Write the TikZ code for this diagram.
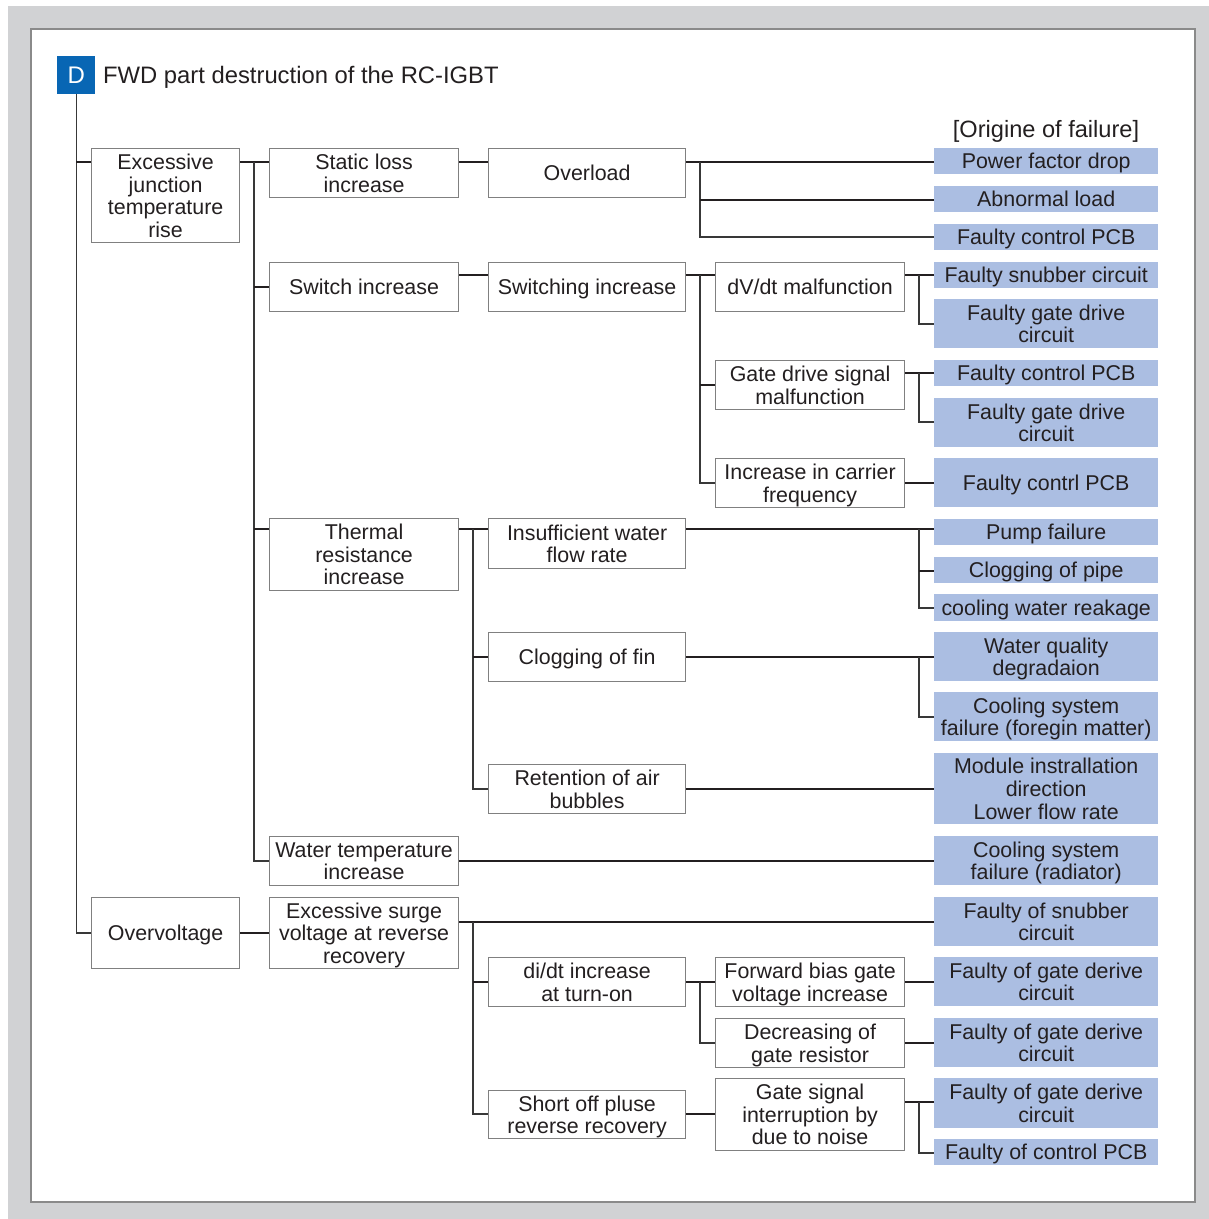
\documentclass[tikz,border=0pt]{standalone}
\usepackage{fontspec}
\setmainfont{Liberation Sans}
\definecolor{ink}{HTML}{231F20}
\definecolor{causefill}{RGB}{171,190,226}
\definecolor{markblue}{HTML}{0866B4}
\definecolor{pagegray}{HTML}{D1D2D4}
\definecolor{framegray}{HTML}{8A8A8A}
\newcommand\boxfont{\fontsize{21.4}{22.6}\selectfont}
\tikzset{
  wbox/.style={draw=black!50, line width=1.2pt, fill=white, inner sep=0pt,
    align=center, anchor=north west, text=ink, font=\boxfont, text depth=0pt},
  lv1/.style={wbox, minimum width=148pt},
  lv2/.style={wbox, minimum width=189pt},
  lv3/.style={wbox, minimum width=197pt},
  lv4/.style={wbox, minimum width=189pt},
  cause/.style={fill=causefill, draw=none, inner sep=0pt, align=center,
    anchor=north west, text=ink, font=\boxfont, text depth=0pt, minimum width=224pt},
  conn/.style={draw=ink, line width=2pt},
  trunk/.style={draw=black!78, line width=1.4pt},
}
\begin{document}
\begin{tikzpicture}[x=1pt, y=-1pt]
\useasboundingbox (0,0) rectangle (1209,1219);
% page and frame
\fill[pagegray] (8,6) rectangle (1209,1219);
\filldraw[fill=white, draw=framegray, line width=1.5pt] (31,29) rectangle (1195,1202);

% heading
\node[fill=markblue, text=white, minimum width=38pt, minimum height=38pt, inner sep=0pt,
  anchor=north west, font=\fontsize{24}{28}\selectfont] (dbox) at (57,56) {D};
\node[anchor=base west, inner sep=0pt, text=ink, font=\fontsize{23.8}{28}\selectfont]
  (title) at (103,83) {FWD part destruction of the RC-IGBT};
\node[anchor=base, inner sep=0pt, text=ink, font=\fontsize{23.6}{26}\selectfont]
  (origin) at (1046,137) {[Origine of failure]};

% level 1
\node[lv1, minimum height=94pt] (exc) at (91,148) {Excessive\\junction\\temperature\\rise};
\node[lv1, minimum height=71pt] (ovv) at (91,897) {Overvoltage};

% level 2
\node[lv2, minimum height=49pt] (static) at (269,148) {Static loss\\increase};
\node[lv2, minimum height=49pt] (swinc) at (269,262) {Switch increase};
\node[lv2, minimum height=72pt] (thermal) at (269,518) {Thermal\\resistance\\increase};
\node[lv2, minimum height=49pt] (wtemp) at (269,836) {Water temperature\\increase};
\node[lv2, minimum height=71pt] (surge) at (269,897) {Excessive surge\\voltage at reverse\\recovery};

% level 3
\node[lv3, minimum height=49pt] (overload) at (488,148) {Overload};
\node[lv3, minimum height=49pt] (switching) at (488,262) {Switching increase};
\node[lv3, minimum height=50pt] (insuff) at (488,518) {Insufficient water\\flow rate};
\node[lv3, minimum height=49pt] (clogfin) at (488,632) {Clogging of fin};
\node[lv3, minimum height=49pt] (retention) at (488,764) {Retention of air\\bubbles};
\node[lv3, minimum height=49pt] (didt) at (488,957) {di/dt increase\\at turn-on};
\node[lv3, minimum height=48pt] (shortoff) at (488,1090) {Short off pluse\\reverse recovery};

% level 4
\node[lv4, minimum height=49pt] (dvdt) at (715,262) {dV/dt malfunction};
\node[lv4, minimum height=49pt] (gdsig) at (715,360) {Gate drive signal\\malfunction};
\node[lv4, minimum height=49pt] (carrier) at (715,458) {Increase in carrier\\frequency};
\node[lv4, minimum height=49pt] (fwdbias) at (715,957) {Forward bias gate\\voltage increase};
\node[lv4, minimum height=49pt] (decr) at (715,1018) {Decreasing of\\gate resistor};
\node[lv4, minimum height=72pt] (gsig) at (715,1078) {Gate signal\\interruption by\\due to noise};

% origins of failure
\node[cause, minimum height=26pt] (c1) at (934,148) {Power factor drop};
\node[cause, minimum height=26pt] (c2) at (934,186) {Abnormal load};
\node[cause, minimum height=26pt] (c3) at (934,224) {Faulty control PCB};
\node[cause, minimum height=26pt] (c4) at (934,262) {Faulty snubber circuit};
\node[cause, minimum height=49pt] (c5) at (934,299) {Faulty gate drive\\circuit};
\node[cause, minimum height=26pt] (c6) at (934,360) {Faulty control PCB};
\node[cause, minimum height=49pt] (c7) at (934,398) {Faulty gate drive\\circuit};
\node[cause, minimum height=49pt] (c8) at (934,458) {Faulty contrl PCB};
\node[cause, minimum height=26pt] (c9) at (934,519) {Pump failure};
\node[cause, minimum height=26pt] (c10) at (934,557) {Clogging of pipe};
\node[cause, minimum height=27pt] (c11) at (934,594) {cooling water reakage};
\node[cause, minimum height=49pt] (c12) at (934,632) {Water quality\\degradaion};
\node[cause, minimum height=49pt] (c13) at (934,692) {Cooling system\\failure (foregin matter)};
\node[cause, minimum height=71pt] (c14) at (934,753) {Module instrallation\\direction\\Lower flow rate};
\node[cause, minimum height=49pt] (c15) at (934,836) {Cooling system\\failure (radiator)};
\node[cause, minimum height=49pt] (c16) at (934,897) {Faulty of snubber\\circuit};
\node[cause, minimum height=49pt] (c17) at (934,957) {Faulty of gate derive\\circuit};
\node[cause, minimum height=49pt] (c18) at (934,1018) {Faulty of gate derive\\circuit};
\node[cause, minimum height=50pt] (c19) at (934,1078) {Faulty of gate derive\\circuit};
\node[cause, minimum height=26pt] (c20) at (934,1139) {Faulty of control PCB};

% junction points of the trunk lines
\coordinate (jroot) at (dbox.south);
\coordinate (jexc) at (254,162);
\coordinate (jthermal) at (473,529);
\coordinate (jsurge) at (473,922);
\coordinate (jover) at (700,162);
\coordinate (jswitch) at (700,275);
\coordinate (jdidt) at (700,982);
\coordinate (jinsuff) at (919,529);
\coordinate (jclog) at (919,657);
\coordinate (jdvdt) at (919,275);
\coordinate (jgdsig) at (919,373);
\coordinate (jgsig) at (919,1102);

% root
\draw[trunk] (jroot) |- (ovv.west);
\draw[conn] (jroot |- exc.north) ++(0,14) -- (exc.west |- 0,162);

% excessive junction temperature rise
\draw[conn] (exc.east |- 0,162) -- (static.west |- 0,162);
\draw[trunk] (jexc) |- (wtemp.west);
\draw[conn] (jexc |- 0,287) -- (swinc.west |- 0,287);
\draw[conn] (jexc |- 0,529) -- (thermal.west |- 0,529);

% overvoltage
\draw[conn] (ovv.east |- 0,933) -- (surge.west |- 0,933);

% level 2 -> level 3
\draw[conn] (static.east |- 0,162) -- (overload.west |- 0,162);
\draw[conn] (swinc.east |- 0,275) -- (switching.west |- 0,275);
\draw[conn] (thermal.east |- 0,529) -- (insuff.west |- 0,529);
\draw[trunk] (jthermal) |- (retention.west |- 0,789);
\draw[conn] (jthermal |- 0,657) -- (clogfin.west |- 0,657);
\draw[conn] (wtemp.east |- 0,861) -- (c15.west |- 0,861);
\draw[conn] (surge.east |- 0,922) -- (c16.west |- 0,922);
\draw[trunk] (jsurge) |- (shortoff.west |- 0,1114);
\draw[conn] (jsurge |- 0,982) -- (didt.west |- 0,982);

% overload
\draw[conn] (overload.east |- 0,162) -- (c1.west |- 0,162);
\draw[trunk] (jover) |- (c3.west |- 0,237);
\draw[conn] (jover |- 0,200) -- (c2.west |- 0,200);

% switching increase
\draw[conn] (switching.east |- 0,275) -- (dvdt.west |- 0,275);
\draw[trunk] (jswitch) |- (carrier.west |- 0,483);
\draw[conn] (jswitch |- 0,385) -- (gdsig.west |- 0,385);

% level 4 -> origins
\draw[conn] (dvdt.east |- 0,275) -- (c4.west |- 0,275);
\draw[trunk] (jdvdt) |- (c5.west |- 0,324);
\draw[conn] (gdsig.east |- 0,373) -- (c6.west |- 0,373);
\draw[trunk] (jgdsig) |- (c7.west |- 0,422);
\draw[conn] (carrier.east |- 0,483) -- (c8.west |- 0,483);

% cooling path
\draw[conn] (insuff.east |- 0,529) -- (c9.west |- 0,529);
\draw[trunk] (jinsuff) |- (c11.west |- 0,608);
\draw[conn] (jinsuff |- 0,571) -- (c10.west |- 0,571);
\draw[conn] (clogfin.east |- 0,657) -- (c12.west |- 0,657);
\draw[trunk] (jclog) |- (c13.west |- 0,717);
\draw[conn] (retention.east |- 0,789) -- (c14.west |- 0,789);

% surge path
\draw[conn] (didt.east |- 0,982) -- (fwdbias.west |- 0,982);
\draw[trunk] (jdidt) |- (decr.west |- 0,1043);
\draw[conn] (shortoff.east |- 0,1114) -- (gsig.west |- 0,1114);
\draw[conn] (fwdbias.east |- 0,982) -- (c17.west |- 0,982);
\draw[conn] (decr.east |- 0,1043) -- (c18.west |- 0,1043);
\draw[conn] (gsig.east |- 0,1102) -- (c19.west |- 0,1102);
\draw[trunk] (jgsig) |- (c20.west |- 0,1153);
\end{tikzpicture}
\end{document}
